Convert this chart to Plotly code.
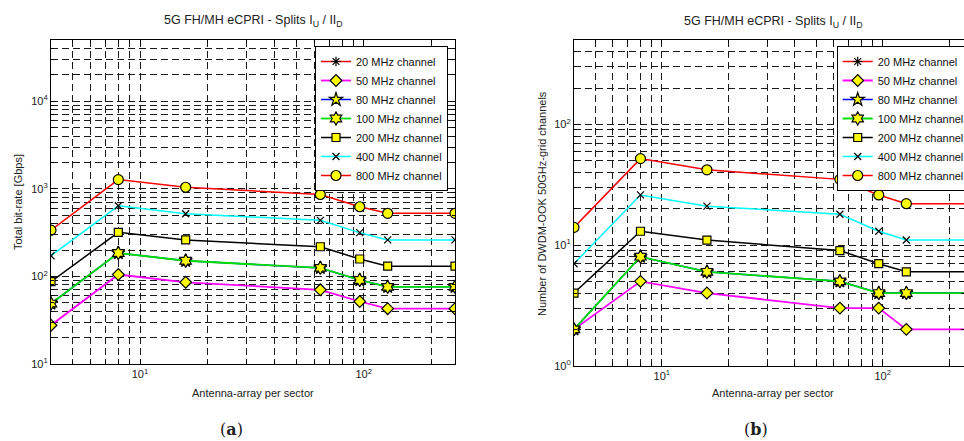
import math
import plotly.graph_objects as go

# ---------------- data ----------------
antennas = [4, 8, 16, 64, 96, 128, 256]

series_names = ["20 MHz channel", "50 MHz channel", "80 MHz channel", "100 MHz channel",
                "200 MHz channel", "400 MHz channel", "800 MHz channel"]

# (a) total bit-rate [Gbps]  (20 MHz curve is not visible in the plot, legend only)
gbps_20 = [None]
gbps_50 = [27.7, 105, 85.7, 70.3, 51.7, 42.8, 42.8]
gbps_80 = [49, 185, 151, 125, 91, 76, 76]
gbps_100 = [49, 185, 151, 125, 91, 76, 76]
gbps_200 = [87, 319, 261, 218, 158, 131, 131]
gbps_400 = [172, 640, 519, 437, 316, 261, 261]
gbps_800 = [337, 1274, 1042, 861, 624, 525, 525]

# (b) number of DWDM-OOK 50GHz-grid channels
ch_20 = [None]
ch_50 = [2, 5, 4, 3, 3, 2, 2]
ch_80 = [2, 8, 6, 5, 4, 4, 4]
ch_100 = [2, 8, 6, 5, 4, 4, 4]
ch_200 = [4, 13, 11, 9, 7, 6, 6]
ch_400 = [7, 26, 21, 18, 13, 11, 11]
ch_800 = [14, 52, 42, 35, 26, 22, 22]

x_tickvals = [10, 100]
x_ticktext = ["10<sup>1</sup>", "10<sup>2</sup>"]
ya_tickvals = [10, 100, 1000, 10000]
ya_ticktext = ["10<sup>1</sup>", "10<sup>2</sup>", "10<sup>3</sup>", "10<sup>4</sup>"]
yb_tickvals = [1, 10, 100]
yb_ticktext = ["10<sup>0</sup>", "10<sup>1</sup>", "10<sup>2</sup>"]

# ---------------- styles ----------------
W, H = 964, 441
FONT = "Liberation Sans"
line_colors = ["#ff0000", "#ff00ff", "#0000ff", "#00e000", "#000000", "#00ffff", "#ff0000"]
symbols = ["asterisk-open", "diamond", "star", "hexagram", "square", "x-thin-open", "circle"]
msizes = [8, 9, 10, 10, 8, 7, 10]
mfill = ["black", "#ffff00", "#ffff00", "#ffff00", "#ffff00", "black", "#ffff00"]
lwidths = [1.5, 1.8, 1.5, 1.8, 1.5, 1.5, 1.5]

fig = go.Figure()

sets = [
    ([gbps_20, gbps_50, gbps_80, gbps_100, gbps_200, gbps_400, gbps_800], "x", "y", "legend"),
    ([ch_20, ch_50, ch_80, ch_100, ch_200, ch_400, ch_800], "x2", "y2", "legend2"),
]
for vals_list, xa, ya, lg in sets:
    for i, vals in enumerate(vals_list):
        xs = antennas[:len(vals)] if vals[0] is not None else [None]
        fig.add_trace(go.Scatter(
            x=xs, y=vals, name=series_names[i],
            mode="lines+markers", xaxis=xa, yaxis=ya, legend=lg, showlegend=True,
            line=dict(color=line_colors[i], width=lwidths[i]),
            marker=dict(symbol=symbols[i], size=msizes[i], color=mfill[i],
                        line=dict(color="black", width=1.2)),
        ))

def minor_vals(lo_exp, hi_exp):
    return [m * 10 ** e for e in range(lo_exp, hi_exp + 1) for m in range(2, 10)]

grid_style = dict(gridcolor="#1a1a1a", gridwidth=1, griddash="7px,4px")

def xaxis(domain, rng, anchor):
    return dict(type="log", domain=domain, range=rng, anchor=anchor,
                tickmode="array", tickvals=x_tickvals, ticktext=x_ticktext,
                showgrid=True, **grid_style,
                minor=dict(tickmode="array", tickvals=minor_vals(0, 2), showgrid=True,
                           ticks="inside", ticklen=3, tickcolor="black", **grid_style),
                ticks="inside", ticklen=5, tickcolor="black",
                showline=True, linecolor="black", linewidth=1.2, mirror="allticks",
                tickfont=dict(family=FONT, size=11, color="#222"), zeroline=False)

def yaxis(domain, rng, anchor, tv, tt):
    return dict(type="log", domain=domain, range=rng, anchor=anchor,
                tickmode="array", tickvals=tv, ticktext=tt,
                showgrid=True, **grid_style,
                minor=dict(tickmode="array", tickvals=minor_vals(0, 4), showgrid=True,
                           ticks="inside", ticklen=3, tickcolor="black", **grid_style),
                ticks="inside", ticklen=5, tickcolor="black",
                showline=True, linecolor="black", linewidth=1.2, mirror="allticks",
                tickfont=dict(family=FONT, size=11, color="#222"), zeroline=False)

xa_dom = [51 / W, 455 / W]
xb_dom = [574 / W, 1.0]
ya_dom = [1 - 364 / H, 1 - 40 / H]
yb_dom = [1 - 365.7 / H, 1 - 40 / H]

xb_end = math.log10(4) + (964 - 574) / (972.8 - 574) * (math.log10(256) - math.log10(4))

legend_common = dict(bgcolor="white", bordercolor="black", borderwidth=1,
                     font=dict(family=FONT, size=11, color="#111"),
                     yanchor="top", tracegroupgap=0, itemwidth=30)

fig.update_layout(
    width=W, height=H,
    paper_bgcolor="white", plot_bgcolor="white",
    margin=dict(l=0, r=0, t=0, b=0, autoexpand=False),
    xaxis=xaxis(xa_dom, [math.log10(4), math.log10(256)], "y"),
    yaxis=yaxis(ya_dom, [1, math.log10(50000)], "x", ya_tickvals, ya_ticktext),
    xaxis2=xaxis(xb_dom, [math.log10(4), xb_end], "y2"),
    yaxis2=yaxis(yb_dom, [0, math.log10(500)], "x2", yb_tickvals, yb_ticktext),
    legend=dict(x=448 / W, xanchor="right", y=1 - 46 / H, **legend_common),
    legend2=dict(x=836.7 / W, xanchor="left", y=1 - 46 / H, **legend_common),
    showlegend=True,
)

title_txt = "5G FH/MH eCPRI - Splits I<sub>U</sub> / II<sub>D</sub>"
annos = [
    dict(text=title_txt, x=253 / W, y=1 - 21 / H, size=12.5, angle=0, fam=FONT),
    dict(text=title_txt, x=773 / W, y=1 - 22 / H, size=12.5, angle=0, fam=FONT),
    dict(text="Antenna-array per sector", x=253 / W, y=1 - 393 / H, size=11, angle=0, fam=FONT),
    dict(text="Antenna-array per sector", x=773 / W, y=1 - 393 / H, size=11, angle=0, fam=FONT),
    dict(text="Total bit-rate [Gbps]", x=18 / W, y=1 - 202 / H, size=11, angle=-90, fam=FONT),
    dict(text="Number of DWDM-OOK 50GHz-grid channels", x=542 / W, y=1 - 204 / H, size=11, angle=-90, fam=FONT),
    dict(text="(<b>a</b>)", x=231 / W, y=1 - 429 / H, size=16, angle=0, fam="DejaVu Serif"),
    dict(text="(<b>b</b>)", x=756 / W, y=1 - 429 / H, size=16, angle=0, fam="DejaVu Serif"),
]
for a in annos:
    fig.add_annotation(text=a["text"], x=a["x"], y=a["y"], xref="paper", yref="paper",
                       xanchor="center", yanchor="middle", showarrow=False,
                       textangle=a["angle"], font=dict(family=a["fam"], size=a["size"], color="#222"))

fig.write_html("out.html", config={"displayModeBar": False},
               post_script="document.body.style.margin='0px';document.body.style.overflow='hidden';")
